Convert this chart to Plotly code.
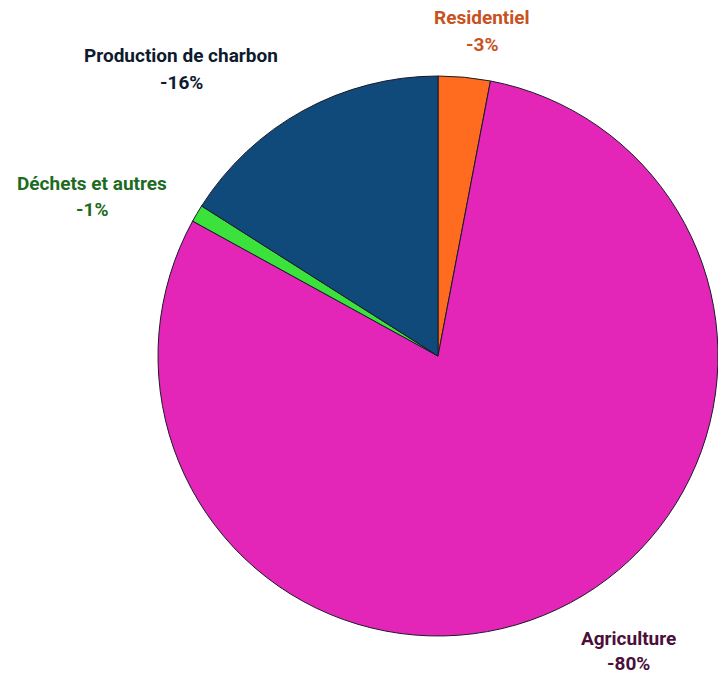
import plotly.graph_objects as go

# Emission shares by source
sectors = ["Residentiel", "Agriculture", "Déchets et autres", "Production de charbon"]
shares = [3, 80, 1, 16]
slice_colors = ["#FF6B1F", "#E326B8", "#3BE23C", "#0F4A7A"]
label_colors = ["#C8521E", "#4A0F3A", "#1D6B22", "#0E1A2E"]

W, H = 718, 677

fig = go.Figure(
    go.Pie(
        labels=sectors,
        values=shares,
        sort=False,
        direction="clockwise",
        rotation=0,
        marker=dict(colors=slice_colors, line=dict(color="#1a1a2a", width=1)),
        textinfo="none",
        hoverinfo="label+percent",
        showlegend=False,
        domain=dict(x=[158 / W, 1.0], y=[40 / H, 602 / H]),
    )
)

# Label anchor points (pixels from top-left) and line gap for each sector
label_pos = {
    "Residentiel": (482, 18, 27),
    "Agriculture": (628, 638, 25),
    "Déchets et autres": (92, 183, 27),
    "Production de charbon": (181, 55, 27),
}

font_family = "Roboto, 'Liberation Sans', Arial, sans-serif"
for name, val, col in zip(sectors, shares, label_colors):
    px, py, gap = label_pos[name]
    for i, txt in enumerate([f"<b>{name}</b>", f"<b>-{val}%</b>"]):
        fig.add_annotation(
            x=px / W,
            y=1 - (py + gap * i) / H,
            xref="paper",
            yref="paper",
            text=txt,
            showarrow=False,
            xanchor="center",
            yanchor="middle",
            font=dict(family=font_family, size=19, color=col),
        )

fig.update_layout(
    width=W,
    height=H,
    margin=dict(l=0, r=0, t=0, b=0),
    paper_bgcolor="white",
    plot_bgcolor="white",
)

fig.write_html("out.html")
